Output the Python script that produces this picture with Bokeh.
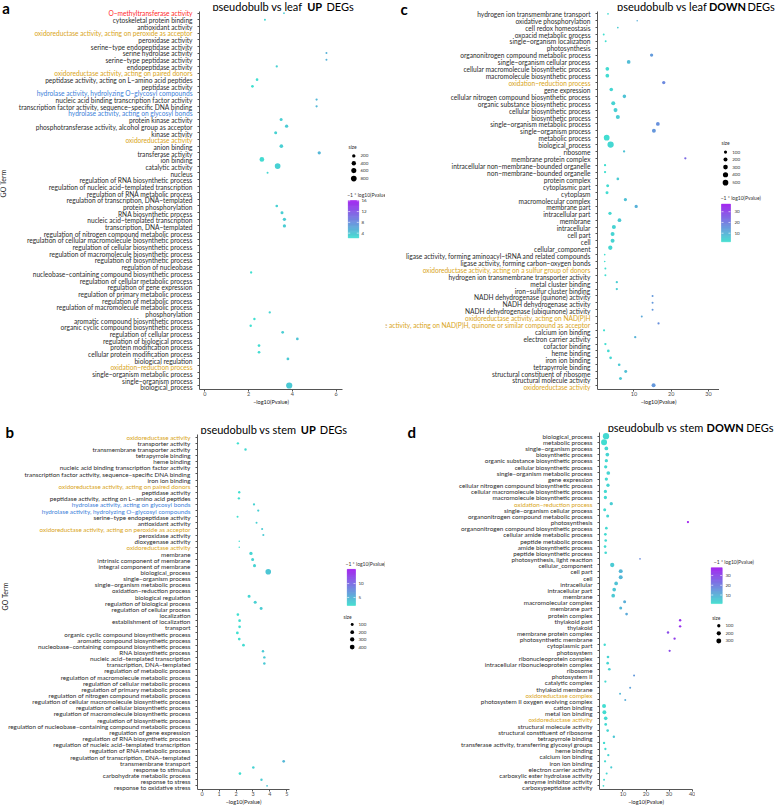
import numpy as np
from bokeh.plotting import figure
from bokeh.models import Range1d, FixedTicker, ColumnDataSource, CustomLabelingPolicy
from bokeh.layouts import row, column
from bokeh.embed import file_html
from bokeh.resources import INLINE
from bokeh.core.properties import value
from bokeh.transform import linear_cmap

RED = "#ff2a2a"
GOLD = "#d9a521"
BLUE = "#3d7fd9"
BLACK = "#2b2b2b"

# ---------------- panel a : pseudobulb vs leaf UP ----------------
a_terms = [
    "O−methyltransferase activity", "cytoskeletal protein binding", "antioxidant activity",
    "oxidoreductase activity, acting on peroxide as acceptor", "peroxidase activity",
    "serine−type endopeptidase activity", "serine hydrolase activity", "serine−type peptidase activity",
    "endopeptidase activity", "oxidoreductase activity, acting on paired donors",
    "peptidase activity, acting on L−amino acid peptides", "peptidase activity",
    "hydrolase activity, hydrolyzing O−glycosyl compounds",
    "nucleic acid binding transcription factor activity",
    "transcription factor activity, sequence−specific DNA binding",
    "hydrolase activity, acting on glycosyl bonds", "protein kinase activity",
    "phosphotransferase activity, alcohol group as acceptor", "kinase activity",
    "oxidoreductase activity", "anion binding", "transferase activity", "ion binding",
    "catalytic activity", "nucleus", "regulation of RNA biosynthetic process",
    "regulation of nucleic acid−templated transcription", "regulation of RNA metabolic process",
    "regulation of transcription, DNA−templated", "protein phosphorylation",
    "RNA biosynthetic process", "nucleic acid−templated transcription",
    "transcription, DNA−templated", "regulation of nitrogen compound metabolic process",
    "regulation of cellular macromolecule biosynthetic process",
    "regulation of cellular biosynthetic process", "regulation of macromolecule biosynthetic process",
    "regulation of biosynthetic process", "regulation of nucleobase",
    "nucleobase−containing compound biosynthetic process", "regulation of cellular metabolic process",
    "regulation of gene expression", "regulation of primary metabolic process",
    "regulation of metabolic process", "regulation of macromolecule metabolic process",
    "phosphorylation", "aromatic compound biosynthetic process",
    "organic cyclic compound biosynthetic process", "regulation of cellular process",
    "regulation of biological process", "protein modification process",
    "cellular protein modification process", "biological regulation",
    "oxidation−reduction process", "single−organism metabolic process",
    "single−organism process", "biological_process",
]
a_logp = [3.62, 2.75, None, None, None, None, 5.56, 5.56, 3.29, None,
          2.39, 2.18, None, 5.11, 5.11, None, 3.49, 3.74, 3.24, None,
          3.50, 5.23, 2.61, 3.33, 2.87, None, None, None, None, 3.29,
          3.53, 3.64, 3.64, None, None, None, None, None, None, 2.12,
          None, None, None, None, None, 2.97, 2.27, 2.10, 3.56, 4.23,
          2.48, 2.48, 3.80, None, None, None, 3.86]
a_count = [20, 35, None, None, None, None, 35, 35, 55, None,
           95, 95, None, 55, 55, None, 138, 180, 138, None,
           250, 180, 495, 812, 35, None, None, None, None, 95,
           138, 180, 180, None, None, None, None, None, None, 60,
           None, None, None, None, None, 60, 70, 70, 100, 100,
           100, 100, 110, None, None, None, 1000]
a_highlight = {
    "O−methyltransferase activity": RED,
    "oxidoreductase activity, acting on peroxide as acceptor": GOLD,
    "oxidoreductase activity, acting on paired donors": GOLD,
    "hydrolase activity, hydrolyzing O−glycosyl compounds": BLUE,
    "hydrolase activity, acting on glycosyl bonds": BLUE,
    "oxidoreductase activity": GOLD,
    "oxidation−reduction process": GOLD,
}
a_xticks = [0, 2, 4, 6]
a_clim = (2.2, 16.1)
a_cticks = [4, 8, 12, 16]
a_sizes = [200, 400, 600, 800]

# ---------------- panel b : pseudobulb vs stem UP ----------------
b_terms = [
    "oxidoreductase activity", "transporter activity", "transmembrane transporter activity",
    "tetrapyrrole binding", "heme binding", "nucleic acid binding transcription factor activity",
    "transcription factor activity, sequence−specific DNA binding", "iron ion binding",
    "oxidoreductase activity, acting on paired donors", "peptidase activity",
    "peptidase activity, acting on L−amino acid peptides",
    "hydrolase activity, acting on glycosyl bonds",
    "hydrolase activity, hydrolyzing O−glycosyl compounds",
    "serine−type endopeptidase activity", "antioxidant activity",
    "oxidoreductase activity, acting on peroxide as acceptor", "peroxidase activity",
    "dioxygenase activity", "oxidoreductase activity", "membrane",
    "intrinsic component of membrane", "integral component of membrane", "biological_process",
    "single−organism process", "single−organism metabolic process", "oxidation−reduction process",
    "biological regulation", "regulation of biological process", "regulation of cellular process",
    "localization", "establishment of localization", "transport",
    "organic cyclic compound biosynthetic process", "aromatic compound biosynthetic process",
    "nucleobase−containing compound biosynthetic process", "RNA biosynthetic process",
    "nucleic acid−templated transcription", "transcription, DNA−templated",
    "regulation of metabolic process", "regulation of macromolecule metabolic process",
    "regulation of cellular metabolic process", "regulation of primary metabolic process",
    "regulation of nitrogen compound metabolic process",
    "regulation of cellular macromolecule biosynthetic process",
    "regulation of cellular biosynthetic process", "regulation of macromolecule biosynthetic process",
    "regulation of biosynthetic process",
    "regulation of nucleobase−containing compound metabolic process",
    "regulation of gene expression", "regulation of RNA biosynthetic process",
    "regulation of nucleic acid−templated transcription", "regulation of RNA metabolic process",
    "regulation of transcription, DNA−templated", "transmembrane transport",
    "response to stimulus", "carbohydrate metabolic process", "response to stress",
    "response to oxidative stress",
]
b_logp = ([None, 2.11, 2.56, None, None, None, None, None, None, 2.19,
           2.17, 3.06, 3.31, 2.09, 3.21, 3.54, 3.61, 2.19, 2.19, 2.88,
           2.98, 3.09, 3.90, None, None, None, 2.77, 3.13, 3.48, 2.11,
           2.21, 2.21, 2.08, 2.19, 2.44, 3.59, 3.67, 3.67]
          + [None] * 15 + [4.81, 3.02, 2.23, 3.50, 3.83])
b_count = ([None, 45, 55, None, None, None, None, None, None, 45,
            45, 40, 40, 25, 25, 30, 30, 8, 8, 140,
            110, 110, 600, None, None, None, 110, 105, 100, 75,
            75, 75, 80, 80, 75, 55, 55, 55]
           + [None] * 15 + [70, 60, 70, 50, 18])
b_highlight = {
    "oxidoreductase activity": GOLD,
    "oxidoreductase activity, acting on paired donors": GOLD,
    "hydrolase activity, acting on glycosyl bonds": BLUE,
    "hydrolase activity, hydrolyzing O−glycosyl compounds": BLUE,
    "oxidoreductase activity, acting on peroxide as acceptor": GOLD,
}
b_xticks = [0, 1, 2, 3, 4, 5]
b_clim = (2.1, 15.1)
b_cticks = [5, 10]
b_sizes = [100, 200, 300, 400]

# ---------------- panel c : pseudobulb vs leaf DOWN ----------------
c_terms = [
    "hydrogen ion transmembrane transport", "oxidative phosphorylation", "cell redox homeostasis",
    "oxoacid metabolic process", "single−organism localization", "photosynthesis",
    "organonitrogen compound metabolic process", "single−organism cellular process",
    "cellular macromolecule biosynthetic process", "macromolecule biosynthetic process",
    "oxidation−reduction process", "gene expression",
    "cellular nitrogen compound biosynthetic process", "organic substance biosynthetic process",
    "cellular biosynthetic process", "biosynthetic process", "single−organism metabolic process",
    "single−organism process", "metabolic process", "biological_process", "ribosome",
    "membrane protein complex", "intracellular non−membrane−bounded organelle",
    "non−membrane−bounded organelle", "protein complex", "cytoplasmic part", "cytoplasm",
    "macromolecular complex", "membrane part", "intracellular part", "membrane", "intracellular",
    "cell part", "cell", "cellular_component",
    "ligase activity, forming aminoacyl−tRNA and related compounds",
    "ligase activity, forming carbon−oxygen bonds",
    "oxidoreductase activity, acting on a sulfur group of donors",
    "hydrogen ion transmembrane transporter activity", "metal cluster binding",
    "iron−sulfur cluster binding", "NADH dehydrogenase (quinone) activity",
    "NADH dehydrogenase activity", "NADH dehydrogenase (ubiquinone) activity",
    "oxidoreductase activity, acting on NAD(P)H",
    "oxidoreductase activity, acting on NAD(P)H, quinone or similar compound as acceptor",
    "calcium ion binding", "electron carrier activity", "cofactor binding", "heme binding",
    "iron ion binding", "tetrapyrrole binding", "structural constituent of ribosome",
    "structural molecule activity", "oxidoreductase activity",
]
c_logp = [3.03, 10.87, 5.67, 1.88, 2.41, None, 14.74, 8.58, 2.85, 2.85,
          18.0, 3.91, 7.43, 4.44, 5.05, 5.67, 16.42, 15.36, 2.68, 3.73,
          7.35, 23.8, 2.24, 2.24, 5.67, 2.94, 2.77, 7.70, 10.6, 3.56,
          6.11, 4.61, 4.26, 4.26, 3.65, 2.15, 2.15, 2.33, 2.33, 5.4,
          5.4, 15.0, 15.0, 15.0, 12.1, 16.6, 1.97, 10.34, 2.33, 3.12,
          3.73, 6.03, 7.79, 6.38, 15.27]
c_count = [12, 8, 12, 18, 18, None, 115, 160, 160, 160,
           115, 150, 150, 200, 200, 210, 170, 190, 520, 650,
           35, 35, 35, 35, 60, 85, 85, 115, 115, 115,
           160, 200, 200, 200, 240, 10, 10, 20, 20, 35,
           35, 20, 20, 20, 20, 30, 30, 35, 35, 60,
           60, 60, 85, 85, 200]
c_highlight = {
    "oxidation−reduction process": GOLD,
    "oxidoreductase activity, acting on a sulfur group of donors": GOLD,
    "oxidoreductase activity, acting on NAD(P)H": GOLD,
    "oxidoreductase activity, acting on NAD(P)H, quinone or similar compound as acceptor": GOLD,
    "oxidoreductase activity": GOLD,
}
c_xticks = [10, 20, 30]
c_clim = (2.0, 37.1)
c_cticks = [10, 20, 30]
c_sizes = [100, 200, 300, 400, 500]

# ---------------- panel d : pseudobulb vs stem DOWN ----------------
d_terms = [
    "biological_process", "metabolic process", "single−organism process", "biosynthetic process",
    "organic substance biosynthetic process", "cellular biosynthetic process",
    "single−organism metabolic process", "gene expression",
    "cellular nitrogen compound biosynthetic process", "cellular macromolecule biosynthetic process",
    "macromolecule biosynthetic process", "oxidation−reduction process",
    "single−organism cellular process", "organonitrogen compound metabolic process",
    "photosynthesis", "organonitrogen compound biosynthetic process",
    "cellular amide metabolic process", "peptide metabolic process", "amide biosynthetic process",
    "peptide biosynthetic process", "photosynthesis, light reaction", "cellular_component",
    "cell part", "cell", "intracellular", "intracellular part", "membrane",
    "macromolecular complex", "membrane part", "protein complex", "thylakoid part", "thylakoid",
    "membrane protein complex", "photosynthetic membrane", "cytoplasmic part", "photosystem",
    "ribonucleoprotein complex", "intracellular ribonucleoprotein complex", "ribosome",
    "photosystem II", "catalytic complex", "thylakoid membrane", "oxidoreductase complex",
    "photosystem II oxygen evolving complex", "cation binding", "metal ion binding",
    "oxidoreductase activity", "structural molecule activity", "structural constituent of ribosome",
    "tetrapyrrole binding", "transferase activity, transferring glycosyl groups", "heme binding",
    "calcium ion binding", "iron ion binding", "electron carrier activity",
    "carboxylic ester hydrolase activity", "enzyme inhibitor activity", "carboxypeptidase activity",
]
d_logp = [2.66, 1.81, 2.8, 3.23, 2.8, 2.52, 3.65, 2.8, 3.51, 2.38,
          2.38, 4.93, 2.09, 3.37, 38.2, 2.8, 2.38, 2.52, 2.24, 2.52,
          17.4, 5.35, 9.03, 9.03, 7.05, 6.2, 5.77, 10.73, 9.03, 11.58,
          34.8, 34.8, 29.55, 32.4, 2.09, 30.26, 3.51, 3.37, 4.08, 14.83,
          2.38, 13.13, 8.75, 11.0, 1.81, 1.95, 2.52, 2.52, 3.37, 6.06,
          1.81, 2.38, 3.65, 2.24, 4.93, 2.94, 1.81, 1.53]
d_count = [560, 500, 138, 138, 100, 100, 138, 100, 100, 100,
           100, 100, 75, 75, 30, 50, 50, 50, 50, 50,
           10, 210, 170, 170, 138, 138, 138, 75, 75, 50,
           35, 35, 35, 35, 35, 30, 50, 50, 50, 20,
           30, 20, 20, 20, 170, 160, 130, 55, 50, 35,
           35, 30, 30, 30, 25, 20, 18, 12]
d_highlight = {
    "oxidation−reduction process": GOLD,
    "oxidoreductase complex": GOLD,
    "oxidoreductase activity": GOLD,
}
d_xticks = [10, 20, 30, 40]
d_clim = (1.2, 38.1)
d_cticks = [10, 20, 30]
d_sizes = [100, 200, 300]

# ---------------- layout constants ----------------
FONT = "Lato"
B = 16
FL = 4
COLS = [(0, 385), (385, 392)]
ROWS = [(0, 407), (407, 400)]

LOW_C = (64, 224, 208)
HIGH_C = (160, 32, 240)
PAL = []
for i in range(256):
    t = i / 255
    PAL.append("#%02x%02x%02x" % tuple(round(LOW_C[k] + (HIGH_C[k] - LOW_C[k]) * t) for k in range(3)))

HIDE_LABELS = CustomLabelingPolicy(code="""
for (const i of indices) { indices.unset(i) }
return indices
""")


def color_at(t):
    return PAL[int(round(min(max(t, 0), 1) * 255))]


def diam(v, sp):
    vmin, vmax, r0, r1 = sp
    t = min(max((v - vmin) / (vmax - vmin), 0), 1)
    return r0 + (r1 - r0) * t ** 0.5


def make_fig(w, h, xr, yr, **kw):
    p = figure(width=w, height=h, x_range=xr, y_range=yr, toolbar_location=None,
               output_backend="svg", title=None, **kw)
    p.outline_line_color = None
    p.background_fill_color = "white"
    p.border_fill_color = "white"
    return p


def build(terms, logp, count, hl, geo, title, xticks, clim, cticks, svals, sp, leg):
    x0, W = COLS[geo["col"]]
    y0, H = ROWS[geo["row"]]
    HH = title["hh"]
    body_top = y0 + HH
    body_h = H - HH
    fb = y0 + H - B
    fl = round(geo["fl"])
    fr = round(geo["fr"])
    LW = fl - FL - x0
    MW = fr + geo["br"] - x0 - LW
    GW = W - LW - MW
    n = len(terms)
    ypos = [n - 1 - i for i in range(n)]
    r1 = geo["r1"]
    rowpx = (fb - r1) / (n - 0.4)
    y_end_main = (n - 1) + (r1 - body_top) / rowpx
    y_end_lab = (n - 1) + (r1 - y0) / rowpx
    zero = geo["zero"]
    ppu = geo["ppu"]
    xs = (fl - zero) / ppu
    xe = (fr - zero) / ppu
    lo, hi = clim

    # ---- main plotting area ----
    m = make_fig(MW, body_h, Range1d(xs, xe), Range1d(-0.6, y_end_main),
                 min_border_left=FL, min_border_right=geo["br"], min_border_top=0,
                 min_border_bottom=B)
    m.grid.visible = False
    idx = [i for i in range(n) if logp[i] is not None]
    src = ColumnDataSource(dict(x=[logp[i] for i in idx], y=[ypos[i] for i in idx],
                                d=[diam(count[i], sp) for i in idx]))
    m.scatter("x", "y", size="d", source=src, fill_color=linear_cmap("x", PAL, lo, hi),
              line_color=None)
    xa = m.xaxis[0]
    xa.ticker = FixedTicker(ticks=xticks)
    xa.minor_tick_line_color = None
    xa.major_tick_out = 2
    xa.major_tick_in = 0
    xa.major_label_standoff = 0
    xa.major_label_text_font = FONT
    xa.major_label_text_font_size = "5.5px"
    xa.major_label_text_color = "#4d4d4d"
    xa.axis_label = "−log10(Pvalue)"
    xa.axis_label_text_font = FONT
    xa.axis_label_text_font_size = "5.5px"
    xa.axis_label_text_font_style = "normal"
    xa.axis_label_text_color = "#1a1a1a"
    xa.axis_label_standoff = 0
    xa.axis_line_color = "#555555"
    xa.major_tick_line_color = "#555555"
    ya = m.yaxis[0]
    ya.ticker = FixedTicker(ticks=list(range(n)))
    ya.minor_tick_line_color = None
    ya.major_tick_out = 2
    ya.major_tick_in = 0
    ya.major_label_standoff = 0
    ya.major_label_text_font_size = "1px"
    ya.major_label_policy = HIDE_LABELS
    ya.axis_line_color = "#555555"
    ya.major_tick_line_color = "#555555"

    # ---- term labels ----
    lf = make_fig(LW, H, Range1d(x0, x0 + LW), Range1d(-0.6, y_end_lab), min_border=0,
                  min_border_bottom=B, x_axis_type=None, y_axis_type=None)
    lf.extra_y_ranges = {"py": Range1d(fb, y0)}
    lsrc = ColumnDataSource(dict(y=ypos, t=terms, c=[hl.get(t, BLACK) for t in terms]))
    lf.text(x=x0 + LW - 1, y="y", text="t", text_color="c", source=lsrc, text_align="right",
            text_baseline="middle", text_font=value(FONT), text_font_size=title["lfs"])
    lx, lym, letter = title["letter"]
    lf.text(x=[lx], y=[lym], text=[letter], y_range_name="py", text_font=value(FONT),
            text_font_style="bold", text_font_size="15px", text_baseline="middle",
            text_color="black")
    if title.get("goterm"):
        gx, gy = title["goterm"]
        lf.text(x=[gx], y=[gy], text=["GO Term"], y_range_name="py", angle=np.pi / 2,
                text_align="center", text_baseline="middle", text_font=value(FONT),
                text_font_size="7px", text_color="#1a1a1a")

    # ---- header (title) ----
    hd = make_fig(MW + GW, HH, Range1d(x0 + LW, x0 + W), Range1d(body_top, y0), min_border=0,
                  x_axis_type=None, y_axis_type=None)
    P = title["P"]
    Dl = title["D"]
    mid = title["mid"]
    hd.text(x=[P - 2.5], y=[mid], text=[title["p1"]], text_align="right",
            text_baseline="middle", text_font=value(FONT), text_font_size="11px",
            text_color="black")
    hd.text(x=[(P + Dl) / 2 - 1], y=[mid], text=[title["bold"]], text_align="center",
            text_baseline="middle", text_font=value(FONT), text_font_size="11px",
            text_font_style="bold", text_color="black")
    hd.text(x=[Dl], y=[mid], text=["DEGs"], text_align="left", text_baseline="middle",
            text_font=value(FONT), text_font_size="11px", text_color="black")

    # ---- legends ----
    g = make_fig(GW, body_h, Range1d(x0 + LW + MW, x0 + W), Range1d(y0 + H, body_top),
                 min_border=0, x_axis_type=None, y_axis_type=None)
    stx, sty = leg["size_title"]
    g.text(x=[stx], y=[sty], text=["size"], text_font=value(FONT),
           text_font_size="5px", text_baseline="middle", text_color="#333333")
    cys = leg["size_y"]
    g.scatter(x=[leg["size_x"]] * len(svals), y=cys, size=[diam(v, sp) for v in svals],
              fill_color="black", line_color=None)
    g.text(x=[leg["size_lx"]] * len(svals), y=cys, text=[str(v) for v in svals],
           text_font=value(FONT), text_font_size="4.5px", text_baseline="middle",
           text_color="#333333")
    bx0, bx1, btop, bbot = leg["bar"]
    N = 60
    vals = np.linspace(lo, hi, N + 1)

    def vy(v):
        return bbot - (v - lo) / (hi - lo) * (bbot - btop)

    cols = [color_at(((vals[k] + vals[k + 1]) / 2 - lo) / (hi - lo)) for k in range(N)]
    g.quad(left=bx0, right=bx1, bottom=[vy(v) for v in vals[:-1]],
           top=[vy(v) for v in vals[1:]], fill_color=cols, line_color=cols, line_width=0.4)
    tys = [vy(v) for v in cticks]
    k = len(cticks)
    g.segment(x0=[bx0] * k, x1=[bx0 + 2] * k, y0=tys, y1=tys, line_color="white",
              line_width=0.6)
    g.segment(x0=[bx1 - 2] * k, x1=[bx1] * k, y0=tys, y1=tys, line_color="white",
              line_width=0.6)
    g.text(x=[leg["tick_x"]] * k, y=tys, text=[str(v) for v in cticks],
           text_font=value(FONT), text_font_size="4.5px", text_baseline="middle",
           text_color="#333333")
    ctx, cty = leg["cb_title"]
    g.text(x=[ctx], y=[cty], text=["−1 * log10(Pvalue)"], text_font=value(FONT),
           text_font_size="5px", text_baseline="middle", text_color="#333333")

    return row(lf, column(hd, row(m, g)))


pa = build(a_terms, a_logp, a_count, a_highlight,
           dict(col=0, row=0, zero=202.3, ppu=22.2, fl=197.0, fr=342.0, r1=12.7, br=1),
           dict(hh=11, letter=(1.7, 7.4, "a"), goterm=(2.5, 183), P=304.3, D=326.0, mid=4.6,
                p1="pseudobulb vs leaf", bold="UP", lfs="6.6px"),
           a_xticks, a_clim, a_cticks, a_sizes, (10, 1000, 1.2, 6.2),
           dict(size_title=(348, 153.3), size_x=353.3, size_y=[162.3, 170, 177.7, 186],
                size_lx=360, bar=(347.7, 358.3, 209, 248.3), tick_x=361,
                cb_title=(346.7, 203.3)))

pc = build(c_terms, c_logp, c_count, c_highlight,
           dict(col=1, row=0, zero=594.2, ppu=3.785, fl=595.0, fr=719.3, r1=13.3, br=0),
           dict(hh=11, letter=(400, 8.0, "c"), P=709.0, D=747.0, mid=4.6,
                p1="pseudobulb vs leaf", bold="DOWN", lfs="6.6px"),
           c_xticks, c_clim, c_cticks, c_sizes, (5, 650, 1.2, 6.3),
           dict(size_title=(721, 149), size_x=725, size_y=[158.3, 166, 174, 182, 190.3],
                size_lx=731.7, bar=(721, 730, 212.7, 252.3), tick_x=734,
                cb_title=(720.2, 206.7)))

pb = build(b_terms, b_logp, b_count, b_highlight,
           dict(col=0, row=1, zero=199.7, ppu=17.33, fl=195.3, fr=289.3, r1=436.7, br=1),
           dict(hh=27, letter=(5, 431.0, "b"), goterm=(4, 596), P=298.3, D=319.3, mid=429.2,
                p1="pseudobulb vs stem", bold="UP", lfs="6.3px"),
           b_xticks, b_clim, b_cticks, b_sizes, (5, 600, 1.2, 5.6),
           dict(size_title=(343, 625.7), size_x=351.7, size_y=[633.7, 641.7, 649.3, 657.3],
                size_lx=358, bar=(346.7, 355, 575.7, 613.7), tick_x=358,
                cb_title=(345, 570)))

pd_ = build(d_terms, d_logp, d_count, d_highlight,
            dict(col=1, row=1, zero=597.4, ppu=2.355, fl=597.3, fr=691.7, r1=435.7, br=3),
            dict(hh=25, letter=(407, 431.0, "d"), P=705.5, D=745.7, mid=427.4,
                 p1="pseudobulb vs stem", bold="DOWN", lfs="6.3px"),
            d_xticks, d_clim, d_cticks, d_sizes, (5, 560, 1.2, 6.3),
            dict(size_title=(711.7, 626.7), size_x=718.3, size_y=[635, 643, 651],
                 size_lx=725, bar=(710.7, 721.7, 574, 611.7), tick_x=725,
                 cb_title=(713.3, 568.3)))

page = column(row(pa, pc), row(pb, pd_))
open("out.html", "w").write(file_html(page, INLINE))
